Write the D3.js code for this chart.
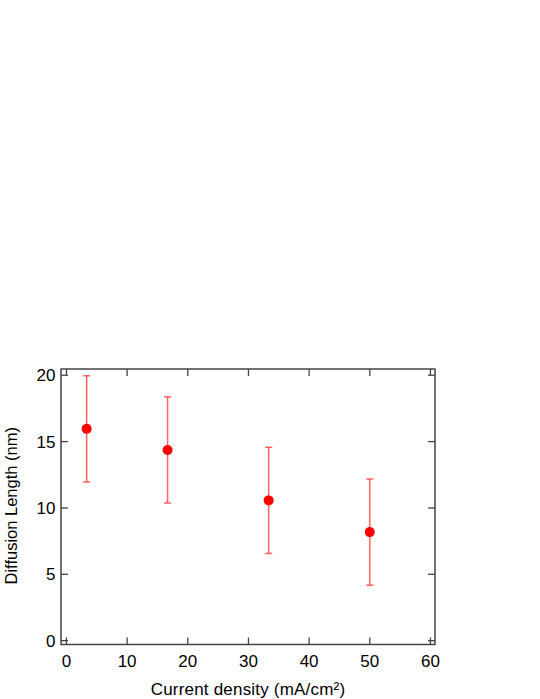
<!DOCTYPE html>
<html><head><meta charset="utf-8">
<script src="https://cdn.jsdelivr.net/npm/d3@7"></script>
<style>html,body{margin:0;padding:0;background:#fff;} svg{display:block;}</style>
</head><body>
<svg id="chart" width="540" height="699"></svg>
<script>
const currentDensity = [3.33, 16.67, 33.33, 50];
const diffusionLength = [15.96, 14.37, 10.57, 8.18];
const errorValues = [4, 4, 4, 4];
const xTicks = [0, 10, 20, 30, 40, 50, 60];
const yTicks = [0, 5, 10, 15, 20];
const xTitle = "Current density (mA/cm²)";
const yTitle = "Diffusion Length (nm)";

const svg = d3.select("#chart");
const L = 61, R = 435, T = 369, B = 644.5;
const x = d3.scaleLinear().domain([-0.9, 60.75]).range([L, R]);
const y = d3.scaleLinear().domain([-0.29, 20.47]).range([B, T]);
const font = "'Liberation Sans', Arial, sans-serif";
const axisColor = "#444";
const tickLen = 7;

const g = svg.append("g");
// ticks (inside, mirrored)
g.selectAll(".xtb").data(xTicks).join("line")
  .attr("x1", d => x(d)).attr("x2", d => x(d)).attr("y1", B).attr("y2", B - tickLen)
  .attr("stroke", axisColor).attr("stroke-width", 1.3);
g.selectAll(".xtt").data(xTicks).join("line")
  .attr("x1", d => x(d)).attr("x2", d => x(d)).attr("y1", T).attr("y2", T + tickLen)
  .attr("stroke", axisColor).attr("stroke-width", 1.3);
g.selectAll(".ytl").data(yTicks).join("line")
  .attr("x1", L).attr("x2", L + tickLen).attr("y1", d => y(d)).attr("y2", d => y(d))
  .attr("stroke", axisColor).attr("stroke-width", 1.3);
g.selectAll(".ytr").data(yTicks).join("line")
  .attr("x1", R).attr("x2", R - tickLen).attr("y1", d => y(d)).attr("y2", d => y(d))
  .attr("stroke", axisColor).attr("stroke-width", 1.3);

// frame
g.append("rect").attr("x", L).attr("y", T).attr("width", R - L).attr("height", B - T)
  .attr("fill", "none").attr("stroke", axisColor).attr("stroke-width", 1.5);

// tick labels
g.selectAll(".xl").data(xTicks).join("text")
  .attr("x", d => x(d)).attr("y", 666.5).attr("text-anchor", "middle")
  .attr("font-family", font).attr("font-size", 17).attr("fill", "#000")
  .text(d => d);
g.selectAll(".yl").data(yTicks).join("text")
  .attr("x", 55.5).attr("y", d => y(d) + 6).attr("text-anchor", "end")
  .attr("font-family", font).attr("font-size", 17).attr("fill", "#000")
  .text(d => d);

// titles
g.append("text").attr("x", (L + R) / 2).attr("y", 694.5).attr("text-anchor", "middle")
  .attr("font-family", font).attr("font-size", 17).attr("letter-spacing", 0.2)
  .attr("fill", "#000").text(xTitle);
g.append("text").attr("transform", `translate(16.5,${(T + B) / 2 - 1}) rotate(-90)`)
  .attr("text-anchor", "middle")
  .attr("font-family", font).attr("font-size", 16.5).attr("fill", "#000").text(yTitle);

// error bars
const data = currentDensity.map((c, i) => ({c, v: diffusionLength[i], e: errorValues[i]}));
const eb = g.append("g").attr("stroke", "#ff3030").attr("stroke-opacity", 0.75).attr("stroke-width", 1.5);
eb.selectAll(".v").data(data).join("line")
  .attr("x1", d => x(d.c)).attr("x2", d => x(d.c))
  .attr("y1", d => y(d.v - d.e)).attr("y2", d => y(d.v + d.e));
eb.selectAll(".ct").data(data).join("line")
  .attr("x1", d => x(d.c) - 3.5).attr("x2", d => x(d.c) + 3.5)
  .attr("y1", d => y(d.v + d.e)).attr("y2", d => y(d.v + d.e));
eb.selectAll(".cb").data(data).join("line")
  .attr("x1", d => x(d.c) - 3.5).attr("x2", d => x(d.c) + 3.5)
  .attr("y1", d => y(d.v - d.e)).attr("y2", d => y(d.v - d.e));

// points
g.selectAll(".pt").data(data).join("circle")
  .attr("cx", d => x(d.c)).attr("cy", d => y(d.v)).attr("r", 5)
  .attr("fill", "#ff0000");
</script>
</body></html>
